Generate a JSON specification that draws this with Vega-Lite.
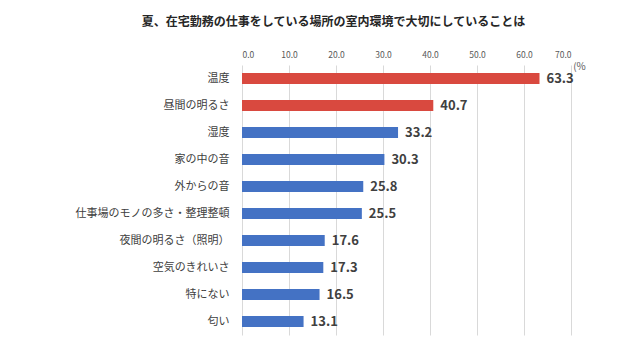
{
  "$schema": "https://vega.github.io/schema/vega-lite/v6.json",
  "autosize": "none",
  "width": 329,
  "height": 270,
  "padding": {"left": 242, "top": 65, "right": 69, "bottom": 13},
  "background": "white",
  "config": {"font": "Noto Sans CJK JP", "view": {"stroke": null}},
  "title": {
    "text": "夏、在宅勤務の仕事をしている場所の室内環境で大切にしていることは",
    "font": "Noto Sans CJK JP",
    "fontSize": 12,
    "fontWeight": "bold",
    "color": "#262626",
    "anchor": "middle",
    "frame": "group",
    "dx": -73,
    "offset": 21
  },
  "data": {
    "values": [
      {"item": "温度", "value": 63.3, "order": 1, "group": "top"},
      {"item": "昼間の明るさ", "value": 40.7, "order": 2, "group": "top"},
      {"item": "湿度", "value": 33.2, "order": 3, "group": "rest"},
      {"item": "家の中の音", "value": 30.3, "order": 4, "group": "rest"},
      {"item": "外からの音", "value": 25.8, "order": 5, "group": "rest"},
      {"item": "仕事場のモノの多さ・整理整頓", "value": 25.5, "order": 6, "group": "rest"},
      {"item": "夜間の明るさ（照明）", "value": 17.6, "order": 7, "group": "rest"},
      {"item": "空気のきれいさ", "value": 17.3, "order": 8, "group": "rest"},
      {"item": "特にない", "value": 16.5, "order": 9, "group": "rest"},
      {"item": "匂い", "value": 13.1, "order": 10, "group": "rest"}
    ]
  },
  "encoding": {
    "y": {
      "field": "item",
      "type": "nominal",
      "sort": {"field": "order", "order": "ascending"},
      "scale": {"paddingInner": 0.6, "paddingOuter": 0.3},
      "axis": {
        "title": null,
        "domain": false,
        "ticks": false,
        "labelFontSize": 11,
        "labelColor": "#404040",
        "labelPadding": 13,
        "labelLimit": 250
      }
    },
    "x": {
      "field": "value",
      "type": "quantitative",
      "scale": {"domain": [0, 70], "nice": false},
      "axis": {
        "orient": "top",
        "values": [0, 10, 20, 30, 40, 50, 60, 70],
        "format": ".1f",
        "domain": false,
        "ticks": false,
        "grid": true,
        "gridColor": "#d9d9d9",
        "gridWidth": 1,
        "labelFontSize": 8.5,
        "labelColor": "#595959",
        "labelPadding": 6,
        "title": "(%",
        "titleFontSize": 10,
        "titleFontWeight": "normal",
        "titleColor": "#595959",
        "titleX": 337,
        "titleY": 1,
        "titleAlign": "center",
        "titleBaseline": "middle"
      }
    }
  },
  "layer": [
    {
      "mark": {"type": "bar"},
      "encoding": {
        "color": {
          "field": "group",
          "type": "nominal",
          "scale": {"domain": ["top", "rest"], "range": ["#d9493f", "#4472c4"]},
          "legend": null
        }
      }
    },
    {
      "mark": {
        "type": "text",
        "align": "left",
        "baseline": "middle",
        "dx": 7,
        "fontSize": 13,
        "fontWeight": "bold",
        "color": "#404040"
      },
      "encoding": {
        "text": {"field": "value", "type": "quantitative", "format": ".1f"}
      }
    }
  ]
}
